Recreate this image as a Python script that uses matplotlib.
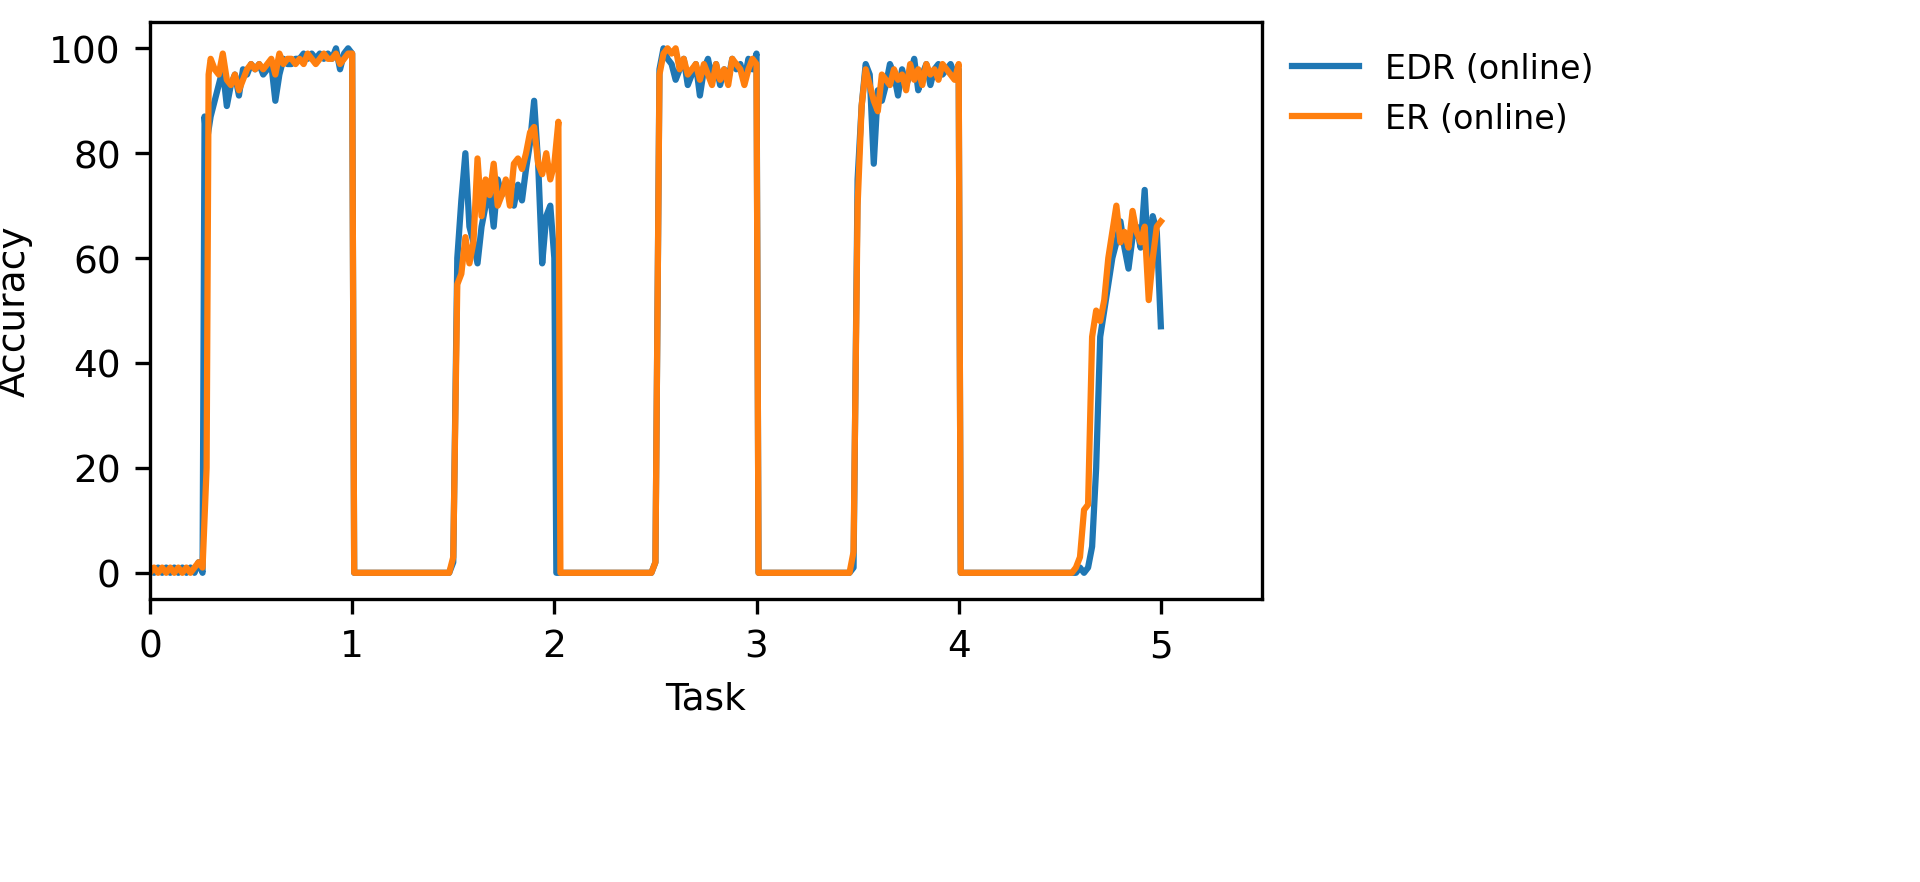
import numpy as np
import matplotlib.pyplot as plt

# values, per segment (x in task units)
edr_x = [0.0, 0.02, 0.04, 0.06, 0.08, 0.10, 0.12, 0.14, 0.16, 0.18, 0.20, 0.22, 0.24, 0.26,
         0.27, 0.28, 0.30, 0.32, 0.34, 0.36, 0.38, 0.40, 0.42, 0.44, 0.46, 0.48, 0.50, 0.52,
         0.54, 0.56, 0.58, 0.60, 0.62, 0.64, 0.66, 0.68, 0.70, 0.72, 0.74, 0.76, 0.78, 0.80,
         0.82, 0.84, 0.86, 0.88, 0.90, 0.92, 0.94, 0.96, 0.98, 1.00, 1.01,
         1.48, 1.50, 1.52, 1.54, 1.56, 1.58, 1.60, 1.62, 1.64, 1.66, 1.68, 1.70, 1.72, 1.74,
         1.76, 1.78, 1.80, 1.82, 1.84, 1.86, 1.88, 1.90, 1.92, 1.94, 1.96, 1.98, 2.00, 2.01,
         2.48, 2.50, 2.52, 2.54, 2.56, 2.58, 2.60, 2.62, 2.64, 2.66, 2.68, 2.70, 2.72, 2.74,
         2.76, 2.78, 2.80, 2.82, 2.84, 2.86, 2.88, 2.90, 2.92, 2.94, 2.96, 2.98, 3.00, 3.01,
         3.46, 3.48, 3.50, 3.52, 3.54, 3.56, 3.58, 3.60, 3.62, 3.64, 3.66, 3.68, 3.70, 3.72,
         3.74, 3.76, 3.78, 3.80, 3.82, 3.84, 3.86, 3.88, 3.90, 3.92, 3.94, 3.96, 3.98, 4.00, 4.01,
         4.58, 4.60, 4.62, 4.64, 4.66, 4.68, 4.70, 4.72, 4.74, 4.76, 4.78, 4.80, 4.82, 4.84,
         4.86, 4.88, 4.90, 4.92, 4.94, 4.96, 4.98, 5.00]
edr_y = [1, 0, 1, 0, 1, 0, 1, 0, 1, 0, 1, 0, 2, 0,
         87, 82, 87, 90, 93, 96, 89, 93, 95, 91, 96, 95, 97, 96,
         97, 95, 96, 97, 90, 95, 98, 97, 97, 98, 98, 99, 98, 99,
         98, 99, 98, 99, 98, 100, 96, 99, 100, 99, 0,
         0, 2, 60, 71, 80, 66, 63, 59, 66, 70, 73, 66, 75, 72,
         74, 72, 70, 74, 71, 77, 82, 90, 78, 59, 68, 70, 60, 0,
         0, 2, 96, 100, 98, 97, 94, 96, 98, 93, 95, 97, 91, 96,
         98, 94, 97, 93, 96, 94, 98, 96, 97, 94, 98, 96, 99, 0,
         0, 1, 75, 89, 97, 95, 78, 92, 90, 93, 97, 95, 91, 96,
         93, 95, 98, 92, 95, 97, 93, 96, 97, 95, 96, 97, 95, 96, 0,
         0, 1, 0, 1, 5, 20, 45, 50, 55, 60, 63, 67, 62, 58,
         64, 66, 62, 73, 58, 68, 65, 47]

er_x = [0.0, 0.02, 0.04, 0.06, 0.08, 0.10, 0.12, 0.14, 0.16, 0.18, 0.20, 0.22, 0.24, 0.26,
        0.28, 0.29, 0.30, 0.32, 0.34, 0.36, 0.38, 0.40, 0.42, 0.44, 0.46, 0.48, 0.50, 0.52,
        0.54, 0.56, 0.58, 0.60, 0.62, 0.64, 0.66, 0.68, 0.70, 0.72, 0.74, 0.76, 0.78, 0.80,
        0.82, 0.84, 0.86, 0.88, 0.90, 0.92, 0.94, 0.96, 0.98, 1.00, 1.01,
        1.48, 1.50, 1.52, 1.54, 1.56, 1.58, 1.60, 1.62, 1.64, 1.66, 1.68, 1.70, 1.72, 1.74,
        1.76, 1.78, 1.80, 1.82, 1.84, 1.86, 1.88, 1.90, 1.92, 1.94, 1.96, 1.98, 2.00, 2.02, 2.03,
        2.48, 2.50, 2.52, 2.54, 2.56, 2.58, 2.60, 2.62, 2.64, 2.66, 2.68, 2.70, 2.72, 2.74,
        2.76, 2.78, 2.80, 2.82, 2.84, 2.86, 2.88, 2.90, 2.92, 2.94, 2.96, 2.98, 3.00, 3.01,
        3.46, 3.48, 3.50, 3.52, 3.54, 3.56, 3.58, 3.60, 3.62, 3.64, 3.66, 3.68, 3.70, 3.72,
        3.74, 3.76, 3.78, 3.80, 3.82, 3.84, 3.86, 3.88, 3.90, 3.92, 3.94, 3.96, 3.98, 4.00, 4.01,
        4.56, 4.58, 4.60, 4.62, 4.64, 4.66, 4.68, 4.70, 4.72, 4.74, 4.76, 4.78, 4.80, 4.82,
        4.84, 4.86, 4.88, 4.90, 4.92, 4.94, 4.96, 4.98, 5.00]
er_y = [0, 1, 0, 1, 0, 1, 0, 1, 0, 1, 0, 1, 2, 1,
        20, 95, 98, 96, 95, 99, 94, 93, 95, 92, 94, 96, 97, 96,
        97, 96, 97, 98, 95, 99, 97, 98, 98, 97, 98, 97, 99, 98,
        97, 98, 99, 98, 98, 99, 97, 98, 99, 99, 0,
        0, 3, 55, 57, 64, 59, 63, 79, 68, 75, 72, 78, 70, 72,
        75, 70, 78, 79, 77, 80, 84, 85, 78, 76, 80, 75, 78, 86, 0,
        0, 2, 95, 99, 100, 99, 100, 96, 98, 95, 96, 97, 94, 97,
        95, 93, 97, 94, 96, 93, 98, 97, 96, 93, 96, 98, 97, 0,
        0, 4, 70, 89, 96, 93, 90, 88, 95, 94, 93, 96, 94, 95,
        92, 97, 94, 96, 93, 97, 95, 96, 94, 97, 96, 95, 94, 97, 0,
        0, 1, 3, 12, 13, 45, 50, 48, 52, 60, 65, 70, 63, 65,
        62, 69, 65, 63, 66, 52, 60, 66, 67]

fig = plt.figure(figsize=(6.403, 2.943), dpi=300)
ax = fig.add_axes([150 / 1921, 1 - 600 / 883, 1112 / 1921, 577 / 883])

ax.plot(edr_x, edr_y, color='#1f77b4', lw=1.5, label='EDR (online)')
ax.plot(er_x, er_y, color='#ff7f0e', lw=1.5, label='ER (online)')

ax.set_xlim(0, 5.5)
ax.set_ylim(-5, 105)
ax.set_xticks([0, 1, 2, 3, 4, 5])
ax.set_yticks([0, 20, 40, 60, 80, 100])
ax.tick_params(labelsize=9)
ax.set_xlabel('Task', fontsize=9)
ax.set_ylabel('Accuracy', fontsize=9)
ax.legend(loc='upper left', bbox_to_anchor=(1.0, 1.0), frameon=False, fontsize=8)

fig.savefig('out.png', dpi=300)
